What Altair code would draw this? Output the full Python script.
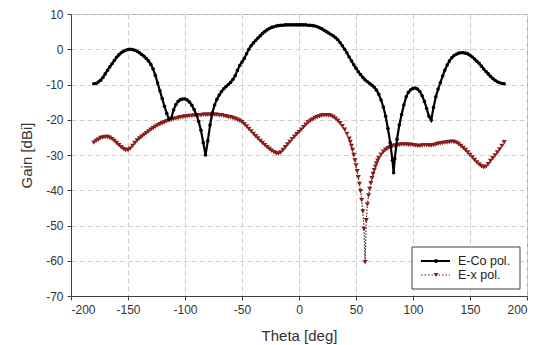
import altair as alt
import pandas as pd

series_names = ["E-Co pol.", "E-x pol."]

theta_co = list(range(-180, 83, 2)) + [83] + list(range(84, 181, 2))
gain_co = [
    -9.8, -9.7, -9.3, -8.8, -8.0,
    -7.0, -6.0, -5.0, -4.1, -3.2,
    -2.3, -1.6, -1.0, -0.6, -0.3,
    -0.1, 0.0, -0.1, -0.3, -0.6,
    -1.0, -1.5, -2.0, -2.6, -3.3,
    -4.3, -5.6, -7.4, -9.6, -11.8,
    -14.0, -16.2, -18.2, -19.8, -19.5,
    -17.2, -15.7, -14.8, -14.3, -14.1,
    -14.1, -14.4, -15.0, -15.9, -17.1,
    -18.6, -20.5, -23.0, -26.5, -30.0,
    -26.0, -21.5, -18.0, -15.8, -14.2,
    -13.0, -12.0, -11.2, -10.6, -10.0,
    -9.4, -8.6, -7.5, -6.0, -4.6,
    -3.6, -2.6, -1.3, 0.0, 1.0,
    1.8, 2.5, 3.2, 3.8, 4.5,
    5.0, 5.5, 5.9, 6.2, 6.4,
    6.6, 6.7, 6.8, 6.8, 6.9,
    6.9, 6.9, 6.9, 6.9, 6.9,
    6.9, 6.9, 6.9, 6.9, 6.8,
    6.8, 6.7, 6.6, 6.4, 6.1,
    5.8, 5.4, 5.0, 4.6, 4.2,
    3.8, 3.3, 2.7, 1.9, 1.0,
    0.0, -1.0, -2.2, -3.3, -4.4,
    -5.4, -6.4, -7.2, -8.0, -8.7,
    -9.2, -9.7, -10.2, -10.8, -11.6,
    -12.8, -14.4, -16.4, -19.0, -22.5,
    -26.5, -31.5,
    -35.0,
    -31.0, -25.5, -21.5, -18.5, -15.8, -13.5, -12.2, -11.5, -11.1, -11.0,
    -11.3, -12.0, -13.2, -14.8, -16.8, -19.0, -20.1, -16.5, -13.5, -11.3,
    -9.5, -7.6, -5.9, -4.5, -3.3, -2.4, -1.8, -1.4, -1.1, -1.0,
    -1.0, -1.1, -1.3, -1.7, -2.2, -2.8, -3.4, -4.0, -4.8, -5.6,
    -6.3, -7.0, -7.7, -8.3, -8.8, -9.2, -9.5, -9.7, -9.8,
]

theta_x = list(range(-180, 45, 2)) + list(range(45, 71)) + list(range(72, 181, 2))
gain_x = [
    -26.5, -26.0, -25.6, -25.2, -25.0,
    -24.9, -24.9, -25.1, -25.5, -26.0,
    -26.6, -27.2, -27.8, -28.3, -28.6,
    -28.6, -28.2, -27.4, -26.6, -25.9,
    -25.3, -24.8, -24.3, -23.8, -23.3,
    -22.8, -22.4, -22.0, -21.6, -21.3,
    -21.0, -20.7, -20.4, -20.2, -20.0,
    -19.8, -19.6, -19.5, -19.3, -19.2,
    -19.1, -19.0, -18.9, -18.9, -18.8,
    -18.8, -18.7, -18.7, -18.6, -18.6,
    -18.6, -18.6, -18.6, -18.6, -18.6,
    -18.7, -18.7, -18.9, -19.0, -19.2,
    -19.3, -19.5, -19.7, -20.0, -20.3,
    -20.7, -21.3, -21.9, -22.6, -23.3,
    -24.0, -24.7, -25.3, -26.0, -26.6,
    -27.2, -27.8, -28.3, -28.8, -29.2,
    -29.5, -29.6, -29.3, -28.6, -27.8,
    -27.0, -26.3, -25.5, -24.8, -24.1,
    -23.5, -22.8, -22.1, -21.4, -20.8,
    -20.3, -19.9, -19.5, -19.2, -19.0,
    -18.8, -18.7, -18.7, -18.7, -18.9,
    -19.2, -19.7, -20.3, -21.0, -21.8,
    -22.8, -24.0, -25.4,
    -26.3, -27.4, -28.6, -30.0, -31.5, -33.0, -34.6, -36.3, -38.2, -40.3,
    -42.8, -46.0, -51.0, -60.4, -48.5, -44.0, -41.5, -39.6, -38.0, -36.6,
    -35.4, -34.3, -33.3, -32.4, -31.6, -30.9,
    -29.9, -29.1, -28.5, -28.1, -27.8, -27.5, -27.3, -27.2, -27.1, -27.0,
    -27.0, -27.0, -27.1, -27.1, -27.2, -27.3, -27.4, -27.4, -27.3, -27.2,
    -27.2, -27.3, -27.3, -27.2, -27.0, -26.8, -26.7, -26.6, -26.5, -26.4,
    -26.3, -26.2, -26.3, -26.5, -26.9, -27.4, -28.0, -28.6, -29.3, -30.0,
    -30.7, -31.4, -32.1, -32.7, -33.2, -33.5, -33.3, -32.6, -31.7, -30.9,
    -30.1, -29.3, -28.4, -27.4, -26.4,
]

x_ticks = [-200, -150, -100, -50, 0, 50, 100, 150, 200]
y_ticks = [-70, -60, -50, -40, -30, -20, -10, 0, 10]

assert len(theta_co) == len(gain_co), (len(theta_co), len(gain_co))
assert len(theta_x) == len(gain_x), (len(theta_x), len(gain_x))

df_co = pd.DataFrame({"theta": theta_co, "gain": gain_co, "series": series_names[0]})
df_x = pd.DataFrame({"theta": theta_x, "gain": gain_x, "series": series_names[1]})

FONT = "Liberation Sans"
CO_COLOR = "#000000"
X_COLOR = "#8B1C1C"

xscale = alt.Scale(domain=[-200, 200], nice=False, zero=False)
yscale = alt.Scale(domain=[-70, 10], nice=False, zero=False)

common_axis = dict(grid=True, gridDash=[5, 3], gridColor="#cfcfcf", domainColor="#404040",
                   tickColor="#404040", tickSize=4, labelFont=FONT, labelFontSize=12,
                   labelColor="#333333", titleFont=FONT, titleFontSize=15,
                   titleFontWeight="normal", titleColor="#333333", labelOverlap=False,
                   labelExpr="toString(datum.value)")
x_axis = alt.Axis(values=x_ticks, title="Theta [deg]", labelPadding=4, titlePadding=13,
                  **common_axis)
y_axis = alt.Axis(values=y_ticks, title="Gain [dBi]", labelPadding=4, titlePadding=11,
                  **common_axis)

X = alt.X("theta:Q", scale=xscale, axis=x_axis)
Y = alt.Y("gain:Q", scale=yscale, axis=y_axis)

x_line = alt.Chart(df_x).mark_line(color="#3a2a2a", strokeWidth=1.2, strokeDash=[1.5, 1.5]).encode(
    x=X, y=Y, order="theta:Q")
x_pts = alt.Chart(df_x).mark_point(shape="triangle-down", filled=True, color=X_COLOR,
                                   size=26, opacity=1).encode(x=X, y=Y)
co_line = alt.Chart(df_co).mark_line(color=CO_COLOR, strokeWidth=2.2).encode(
    x=X, y=Y, order="theta:Q")
co_pts = alt.Chart(df_co).mark_point(shape="circle", filled=True, color=CO_COLOR,
                                     size=13, opacity=1).encode(x=X, y=Y)

one = alt.Data(values=[{}])
leg_box = alt.Chart(one).mark_rect(fill="white", stroke="#404040", strokeWidth=1).encode(
    x=alt.value(341), x2=alt.value(449), y=alt.value(233), y2=alt.value(275))
leg_co_line = alt.Chart(one).mark_rule(color=CO_COLOR, strokeWidth=2).encode(
    x=alt.value(350), x2=alt.value(379), y=alt.value(247))
leg_co_pt = alt.Chart(one).mark_point(shape="circle", filled=True, color=CO_COLOR, size=16,
                                      opacity=1).encode(x=alt.value(365), y=alt.value(247))
leg_co_txt = alt.Chart(one).mark_text(align="left", baseline="middle", font=FONT, fontSize=12.5,
                                      color="#222222", text=series_names[0]).encode(
    x=alt.value(387), y=alt.value(247))
leg_x_line = alt.Chart(one).mark_rule(color="#3a2a2a", strokeWidth=1.2, strokeDash=[1.5, 2]).encode(
    x=alt.value(350), x2=alt.value(379), y=alt.value(261))
leg_x_pt = alt.Chart(one).mark_point(shape="triangle-down", filled=True, color=X_COLOR, size=24,
                                     opacity=1).encode(x=alt.value(365), y=alt.value(261))
leg_x_txt = alt.Chart(one).mark_text(align="left", baseline="middle", font=FONT, fontSize=12.5,
                                     color="#222222", text=series_names[1]).encode(
    x=alt.value(387), y=alt.value(261))

chart = alt.layer(
    x_line, x_pts, co_line, co_pts,
    leg_box, leg_co_line, leg_co_pt, leg_co_txt, leg_x_line, leg_x_pt, leg_x_txt,
).properties(
    width=456, height=282,
    autosize=alt.AutoSizeParams(type="none"),
    padding={"left": 71, "top": 14, "right": 21, "bottom": 49},
    background="white",
).configure_view(stroke="#a8a8a8", strokeWidth=1)

chart.save("out.html", embed_options={"renderer": "svg", "actions": False})
